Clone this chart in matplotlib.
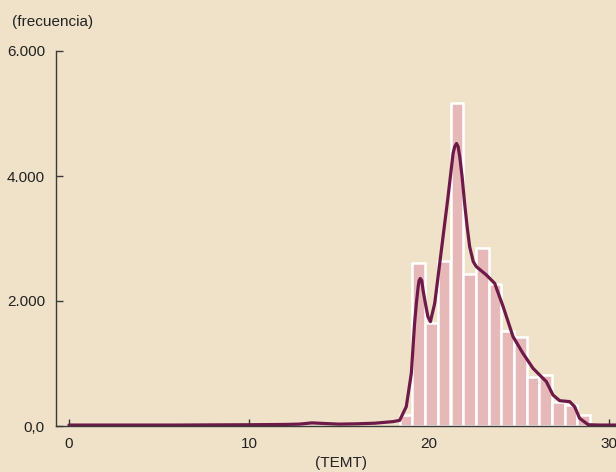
import numpy as np
import matplotlib.pyplot as plt

# histograma (TEMT), bordes izquierdos y alturas
bin_left = [18.38, 19.08, 19.79, 20.49, 21.20, 21.90, 22.61, 23.31,
            24.01, 24.72, 25.42, 26.13, 26.83, 27.54, 28.24]
bin_width = 0.704
freq = [176, 2613, 1643, 2645, 5163, 2432, 2843, 2272,
        1525, 1419, 779, 816, 384, 336, 176]

# curva de densidad (escalada a frecuencia)
kde_x = [0.0, 2.0, 4.0, 6.0, 8.0, 10.0, 12.0, 12.8, 13.5, 14.2, 15.0, 16.0,
         17.0, 17.6, 18.0, 18.37, 18.74, 19.02, 19.2, 19.3, 19.4, 19.45,
         19.52, 19.6, 19.67, 19.8, 19.94, 20.08, 20.32, 20.69, 21.06,
         21.34, 21.43, 21.53, 21.62, 21.71, 21.84, 21.98, 22.12, 22.26,
         22.46, 22.63, 23.19, 23.65, 24.12, 24.67, 25.22, 25.78, 26.24,
         26.52, 26.89, 27.26, 27.82, 28.09, 28.37, 28.85, 29.5, 30.4]
kde_y = [15, 15, 15, 15, 18, 20, 25, 30, 50, 40, 30, 35,
         45, 60, 70, 90, 310, 845, 1640, 1963, 2230, 2325,
         2360, 2325, 2176, 1963, 1750, 1670, 1965, 2816, 3670,
         4363, 4470, 4520, 4470, 4310, 3990, 3565, 3190, 2870,
         2630, 2550, 2416, 2283, 1910, 1430, 1163, 923, 790,
         710, 496, 405, 390, 310, 123, 20, 15, 15]

yticks = [0, 2000, 4000, 6000]
ytick_labels = ["0,0", "2.000", "4.000", "6.000"]
xticks = [0, 10, 20, 30]

bg = "#f0e2c8"
plt.rcParams['font.family'] = ['Liberation Sans', 'DejaVu Sans']

fig = plt.figure(figsize=(6.16, 4.72), dpi=100, facecolor=bg)
ax = fig.add_axes([56/616, 46/472, 1 - 56/616, 375/472])
ax.set_facecolor(bg)

ax.bar(bin_left, freq, width=bin_width, align='edge', color="#e6b9b8",
       edgecolor="white", linewidth=1.8, zorder=2)
ax.plot(kde_x, kde_y, color="#6d1a48", linewidth=2.3, zorder=3,
        solid_capstyle='round', solid_joinstyle='round')

ax.set_xlim(-0.72, 30.39)
ax.set_ylim(0, 6000)

for s in ['top', 'right']:
    ax.spines[s].set_visible(False)
for s in ['left', 'bottom']:
    ax.spines[s].set_color("#3a3a3a")
    ax.spines[s].set_linewidth(1.0)
    ax.spines[s].set_zorder(4)

ax.set_xticks(xticks)
ax.set_yticks(yticks)
ax.set_yticklabels(ytick_labels)
ax.tick_params(axis='both', direction='in', length=5, width=1.0,
               color="#3a3a3a", labelsize=11, labelcolor="#222222")
ax.tick_params(axis='x', pad=8)
ax.tick_params(axis='y', pad=8)

fig.text(12/616, 1 - 22/472, "(frecuencia)", fontsize=11, color="#222222",
         ha='left', va='center')
fig.text(341/616, 1 - 463/472, "(TEMT)", fontsize=11, color="#222222",
         ha='center', va='center')

fig.savefig("out.png", dpi=100, facecolor=bg)
